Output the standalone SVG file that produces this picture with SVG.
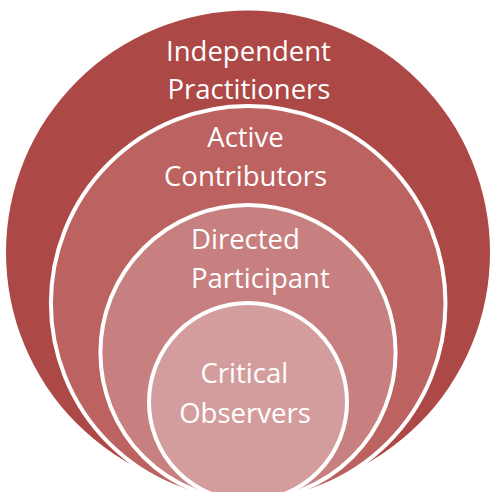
<svg xmlns="http://www.w3.org/2000/svg" width="490" height="492" viewBox="0 0 490 492">
  <style>
    .ring { stroke: #ffffff; stroke-width: 4; }
    .lbl { font-family: "Open Sans", "Noto Sans", sans-serif; font-size: 27.5px; fill: #ffffff; }
    .mid { text-anchor: middle; }
  </style>
  <rect width="490" height="492" fill="#ffffff"/>
  <!-- nested target: outermost ring first, inner rings drawn on top -->
  <g id="independent-practitioners">
    <circle cx="248" cy="252.5" r="242" fill="#ac4846"/>
    <text class="lbl mid" x="248.5" y="61">Independent</text>
    <text class="lbl mid" x="249" y="99">Practitioners</text>
  </g>
  <g id="active-contributors">
    <circle class="ring" cx="248.2" cy="303.3" r="197.3" fill="#bc6260"/>
    <text class="lbl mid" x="245.5" y="147">Active</text>
    <text class="lbl mid" x="245.6" y="186">Contributors</text>
  </g>
  <g id="directed-participant">
    <circle class="ring" cx="248" cy="352.6" r="147.6" fill="#c77f7f"/>
    <text class="lbl" x="191" y="249.3">Directed</text>
    <text class="lbl" x="191" y="287.8">Participant</text>
  </g>
  <g id="critical-observers">
    <circle class="ring" cx="248" cy="402" r="99" fill="#d49d9d"/>
    <text class="lbl mid" x="244.3" y="383.3">Critical</text>
    <text class="lbl mid" x="245" y="422.7">Observers</text>
  </g>
  <g id="connectors"/>
</svg>
